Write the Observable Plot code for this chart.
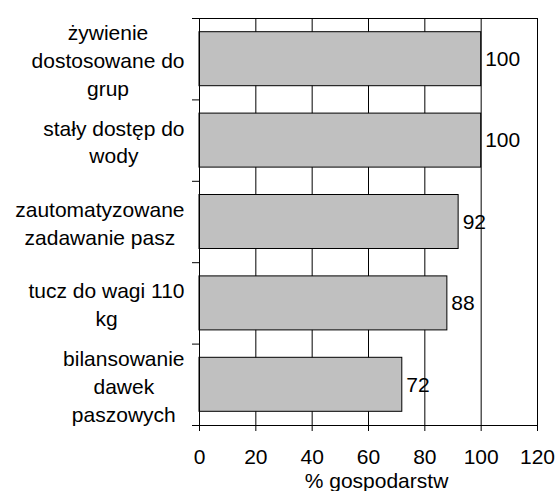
<!DOCTYPE html>
<html>
<head>
<meta charset="utf-8">
<script src="https://cdn.jsdelivr.net/npm/d3@7"></script>
<script src="https://cdn.jsdelivr.net/npm/@observablehq/plot@0.6"></script>
<style>
  html, body { margin: 0; padding: 0; background: #fff; }
  #chart svg { display: block; }
</style>
</head>
<body>
<div id="chart"></div>
<script>
const categories = [
  "żywienie\ndostosowane do\ngrup",
  "stały dostęp do\nwody",
  "zautomatyzowane\nzadawanie pasz",
  "tucz do wagi 110\nkg",
  "bilansowanie\ndawek\npaszowych"
];
const values = [100, 100, 92, 88, 72];
const xTicks = [0, 20, 40, 60, 80, 100, 120];
const xLabel = "% gospodarstw";

const data = categories.map((c, i) => ({category: c, value: values[i], i}));

const FONT = "Liberation Sans, Arial, sans-serif";
const FS = 21;
const ctx = document.createElement("canvas").getContext("2d");
ctx.font = `${FS}px Liberation Sans, Arial, sans-serif`;
const blockWidth = c => Math.max(...c.split("\n").map(l => ctx.measureText(l).width));

const labelMarks = data.map(d =>
  Plot.text([d], {
    y: r => r.i + 0.5,
    text: "category",
    frameAnchor: "left",
    dx: -(15 + blockWidth(d.category) / 2),
    textAnchor: "middle",
    lineHeight: 1.33,
    fontSize: FS,
    fill: "black"
  })
);

const chart = Plot.plot({
  width: 555,
  height: 491,
  marginLeft: 199,
  marginRight: 18,
  marginTop: 18,
  marginBottom: 66,
  style: {fontFamily: FONT, fontSize: FS + "px", background: "white", color: "black"},
  x: {domain: [0, 120]},
  y: {domain: [0, categories.length], reverse: true},
  marks: [
    Plot.gridX({ticks: xTicks.filter(t => t > 0), stroke: "black", strokeOpacity: 1, strokeWidth: 1}),
    Plot.rect(data, {
      x1: () => 0,
      x2: "value",
      y1: "i",
      y2: d => d.i + 1,
      insetTop: 13.7,
      insetBottom: 13.7,
      fill: "#c0c0c0",
      stroke: "black",
      strokeWidth: 1
    }),
    Plot.text(data, {
      x: "value",
      y: d => d.i + 0.5,
      text: d => String(d.value),
      textAnchor: "start",
      dx: 4,
      fontSize: FS,
      fill: "black"
    }),
    Plot.frame({stroke: "black", strokeWidth: 1}),
    Plot.axisX({
      ticks: xTicks,
      tickSize: 6,
      tickPadding: 18,
      fontSize: FS,
      label: null
    }),
    Plot.text([xLabel], {
      text: d => d,
      frameAnchor: "bottom",
      textAnchor: "middle",
      lineAnchor: "bottom",
      dx: 8,
      dy: 62,
      fontSize: FS,
      fill: "black"
    }),
    Plot.axisY({
      ticks: d3.range(0, categories.length + 1),
      tickSize: 7,
      tickFormat: () => "",
      label: null
    }),
    ...labelMarks
  ]
});
document.getElementById("chart").append(chart);
</script>
</body>
</html>
